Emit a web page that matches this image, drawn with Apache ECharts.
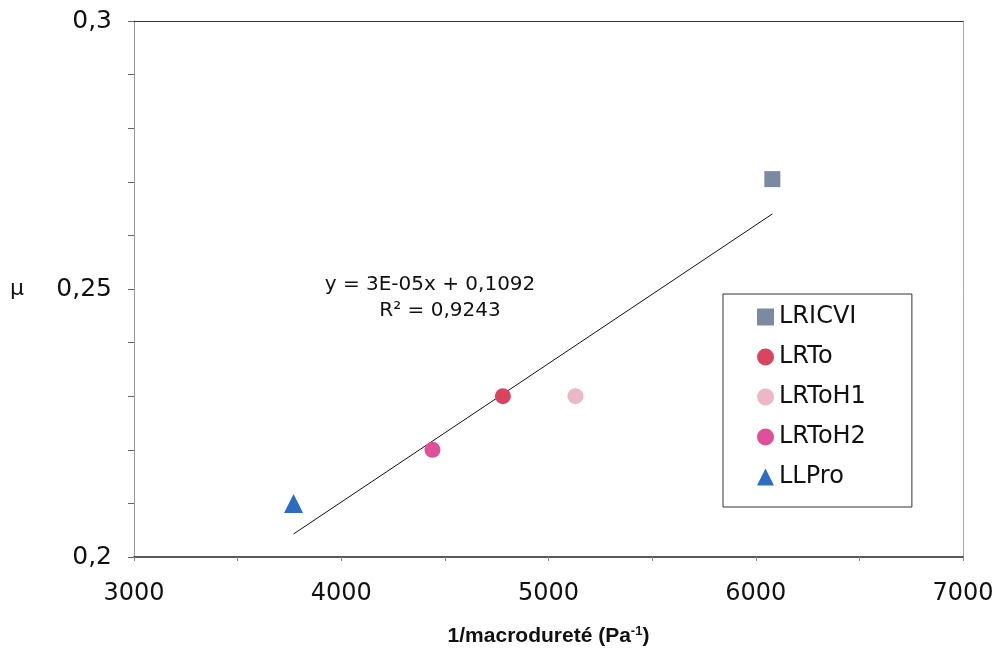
<!DOCTYPE html>
<html>
<head>
<meta charset="utf-8">
<script src="https://cdn.jsdelivr.net/npm/echarts@6/dist/echarts.min.js"></script>
<style>
  html, body { margin: 0; padding: 0; background: #fff; }
  #chart { width: 999px; height: 657px; }
</style>
</head>
<body>
<div id="chart"></div>
<script>
// points: [1/macrodureté, mu]
const lricvi = [[6080, 0.2705]];
const lrto = [[4780, 0.23]];
const lrtoh1 = [[5130, 0.23]];
const lrtoh2 = [[4440, 0.22]];
const llpro = [[3770, 0.21]];
// linear trendline as drawn (ends at min and max x)
const trend = [[3770, 0.2043], [6080, 0.264]];
const eqText = ['y = 3E-05x + 0,1092', 'R² = 0,9243'];

const font = '"DejaVu Sans", Verdana, sans-serif';
const boldFont = '"Liberation Sans", Arial, sans-serif';
const myChart = echarts.init(document.getElementById('chart'));

const fmtY = (v) => {
  const c = Math.round(v * 100);
  if (c % 5 !== 0) return '';
  return String(c / 100).replace('.', ',');
};

const option = {
  backgroundColor: '#fff',
  animation: false,
  textStyle: { fontFamily: font },
  grid: { left: 134, right: 36, top: 21, bottom: 100 },
  legend: {
    orient: 'vertical',
    left: 723,
    top: 294,
    padding: [11, 46, 18, 34],
    itemWidth: 17,
    itemHeight: 17,
    itemGap: 16,
    itemTextGap: 13,
    borderColor: '#333',
    borderWidth: 1,
    textStyle: { fontSize: 24, color: '#111', lineHeight: 24, fontFamily: font },
    data: [
      { name: 'LRICVI', icon: 'rect' },
      { name: 'LRTo', icon: 'circle' },
      { name: 'LRToH1', icon: 'circle' },
      { name: 'LRToH2', icon: 'circle' },
      { name: 'LLPro', icon: 'triangle' }
    ]
  },
  xAxis: [{
    type: 'value',
    min: 3000,
    max: 7000,
    interval: 500,
    axisLine: { lineStyle: { color: '#222', width: 1.5 } },
    axisTick: { show: true, length: 4, lineStyle: { color: '#888' } },
    splitLine: { show: false },
    axisLabel: {
      margin: 25,
      fontSize: 24,
      color: '#111',
      fontFamily: font,
      formatter: (v) => (v % 1000 === 0 ? String(v) : '')
    },
    name: '{b|1/macrodureté (Pa}{s|-1}{b|)}',
    nameLocation: 'middle',
    nameGap: 68,
    nameTextStyle: {
      rich: {
        b: { fontSize: 21, fontWeight: 'bold', color: '#111', fontFamily: boldFont },
        s: { fontSize: 13, fontWeight: 'bold', color: '#111', fontFamily: boldFont, verticalAlign: 'top', padding: [0, 0, 10, 0] }
      }
    }
  }, {
    type: 'value',
    position: 'top',
    min: 3000,
    max: 7000,
    axisLine: { show: true, lineStyle: { color: '#333', width: 1.2 } },
    axisTick: { show: false },
    axisLabel: { show: false },
    splitLine: { show: false }
  }],
  yAxis: [{
    type: 'value',
    min: 0.2,
    max: 0.3,
    interval: 0.01,
    axisLine: { show: true, lineStyle: { color: '#999', width: 1 } },
    axisTick: { show: true, length: 6, lineStyle: { color: '#666' } },
    splitLine: { show: false },
    axisLabel: {
      margin: 22,
      fontSize: 25,
      color: '#111',
      fontFamily: font,
      formatter: fmtY
    },
    name: 'μ',
    nameLocation: 'middle',
    nameRotate: 0,
    nameGap: 110,
    nameTextStyle: { fontSize: 22, color: '#111', fontFamily: font }
  }, {
    type: 'value',
    position: 'right',
    min: 0.2,
    max: 0.3,
    axisLine: { show: true, lineStyle: { color: '#aaa', width: 1 } },
    axisTick: { show: false },
    axisLabel: { show: false },
    splitLine: { show: false }
  }],
  series: [
    {
      name: 'trend',
      type: 'line',
      data: trend,
      symbol: 'none',
      lineStyle: { color: '#111', width: 1 },
      z: 1
    },
    {
      name: 'LRICVI',
      type: 'scatter',
      data: lricvi,
      symbol: 'rect',
      symbolSize: 16,
      itemStyle: { color: '#7b8aa3', opacity: 1 }
    },
    {
      name: 'LRTo',
      type: 'scatter',
      data: lrto,
      symbol: 'circle',
      symbolSize: 16,
      itemStyle: { color: '#d94461', opacity: 1 }
    },
    {
      name: 'LRToH1',
      type: 'scatter',
      data: lrtoh1,
      symbol: 'circle',
      symbolSize: 16,
      itemStyle: { color: '#ebb8c4', opacity: 1 }
    },
    {
      name: 'LRToH2',
      type: 'scatter',
      data: lrtoh2,
      symbol: 'circle',
      symbolSize: 16,
      itemStyle: { color: '#e0509a', opacity: 1 }
    },
    {
      name: 'LLPro',
      type: 'scatter',
      data: llpro,
      symbol: 'triangle',
      symbolSize: 19,
      itemStyle: { color: '#2e6cc0', opacity: 1 }
    }
  ],
  graphic: [
    {
      type: 'text',
      style: {
        x: 430, y: 285, text: eqText[0], fill: '#111',
        font: '20px ' + font, textAlign: 'center', textVerticalAlign: 'middle'
      }
    },
    {
      type: 'text',
      style: {
        x: 440, y: 311, text: eqText[1], fill: '#111',
        font: '20px ' + font, textAlign: 'center', textVerticalAlign: 'middle'
      }
    }
  ]
};

myChart.setOption(option);
</script>
</body>
</html>
